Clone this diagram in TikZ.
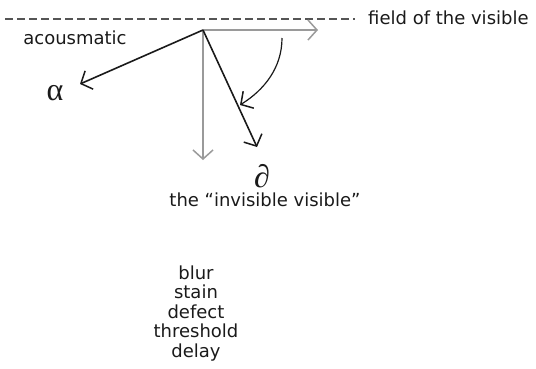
\documentclass[tikz,border=0pt]{standalone}
\usepackage{fontspec}
\setmainfont{DejaVu Sans}
\newfontfamily\grkfont{Liberation Serif}
\usetikzlibrary{arrows.meta}
\definecolor{lgray}{HTML}{9A9A9A}
\definecolor{dgray}{HTML}{555555}
\definecolor{ink}{HTML}{1A1A1A}
\begin{document}
\begin{tikzpicture}[x=1pt,y=-1pt,
  lbl/.style={font=\fontsize{18}{19.5}\selectfont, text=ink, inner sep=0pt},
  greek/.style={font=\grkfont\fontsize{32}{34}\selectfont, text=ink, inner sep=0pt},
  barb/.style={-{Straight Barb[length=9pt,width=20pt,line width=1.5pt]}, line width=1.6pt},
  grayarrow/.style={barb, draw=lgray},
  blackarrow/.style={barb, draw=ink},
  dashline/.style={draw=dgray, line width=1.2pt, dash pattern=on 8pt off 4pt}]
\useasboundingbox (0,0) rectangle (536,368);
\coordinate (L) at (5,19);
\coordinate (R) at (355,19);
\draw[dashline] (L) -- (R);
\node[lbl, anchor=base west] (field) at (368,24) {field of the visible};
\node[lbl, anchor=base] (acous) at (75,44) {acousmatic};
\coordinate (O) at (203,30);
\coordinate (E) at (318,30);
\coordinate (S) at (203,160);
\coordinate (A) at (80,84);
\coordinate (D) at (257,147);
\coordinate (C1) at (282,38);
\coordinate (C2) at (240,105);
\draw[grayarrow] (O) -- (E);
\draw[grayarrow] (O) -- (S);
\draw[blackarrow] (O) -- (A);
\draw[blackarrow] (O) -- (D);
\draw[blackarrow, line width=1.2pt] (C1) .. controls (282,68) and (264,90) .. (C2);
\node[greek] (alpha) at (55,93) {α};
\node[greek] (part) at (262,176) {∂};
\node[lbl] (inv) at (265,200) {the “invisible visible”};
\node[lbl, align=center, anchor=north] (list) at (196,265.5) {blur\\stain\\defect\\threshold\\delay};
\end{tikzpicture}
\end{document}
